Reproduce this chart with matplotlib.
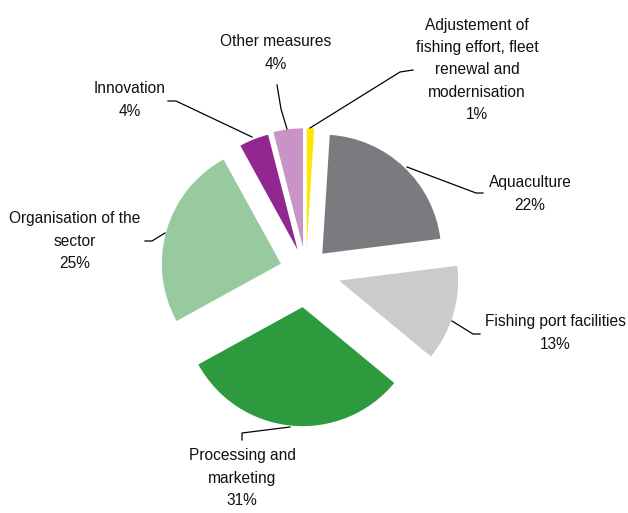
import matplotlib
matplotlib.use("Agg")
import matplotlib.pyplot as plt

# Funding split by measure
categories = [
    "Adjustement of\nfishing effort, fleet\nrenewal and\nmodernisation",
    "Aquaculture",
    "Fishing port facilities",
    "Processing and\nmarketing",
    "Organisation of the\nsector",
    "Innovation",
    "Other measures",
]
shares = [1, 22, 13, 31, 25, 4, 4]
colors = ["#FFE600", "#7B7A7F", "#CBCBCD", "#2E9A3E", "#97CB9F", "#92278F", "#C893C6"]
explode = [0.20, 0.20, 0.29, 0.305, 0.22, 0.19, 0.20]  # fraction of the radius

plt.rcParams["font.family"] = ["Liberation Sans", "DejaVu Sans"]

W, H = 628, 513
fig = plt.figure(figsize=(W / 100, H / 100), dpi=100)
ax = fig.add_axes([0, 0, 1, 1])

cx, cy, R = 306, 271, 119
wedges, _ = ax.pie(shares, explode=[e * R for e in explode], colors=colors,
                   startangle=90, counterclock=False, center=(cx, H - cy),
                   radius=R, wedgeprops=dict(linewidth=0))

ax.set_xlim(0, W)
ax.set_ylim(0, H)
ax.set_aspect("equal")
ax.axis("off")

# label centre and leader line path (pixel coordinates, y downward)
layout = [
    ((477, 70), [(310, 128), (400, 72), (413, 70)]),
    ((530, 194), [(407, 167), (476, 193), (483, 193)]),
    ((555, 333), [(452, 321), (473, 334), (480, 334)]),
    ((242, 478), [(290, 427), (242, 433), (242, 440)]),
    ((75, 241), [(165, 233), (152, 241), (145, 241)]),
    ((130, 100), [(252, 137), (176, 101), (168, 101)]),
    ((276, 53), [(287, 129), (281, 109), (277, 85)]),
]

for cat, val, ((tx, ty), path) in zip(categories, shares, layout):
    ax.text(tx, H - ty, f"{cat}\n{val}%", ha="center", va="center",
            fontsize=11.2, color="#111111", linespacing=1.62)
    xs = [p[0] for p in path]
    ys = [H - p[1] for p in path]
    ax.plot(xs, ys, color="black", lw=0.9)

fig.savefig("out.png", dpi=100)
